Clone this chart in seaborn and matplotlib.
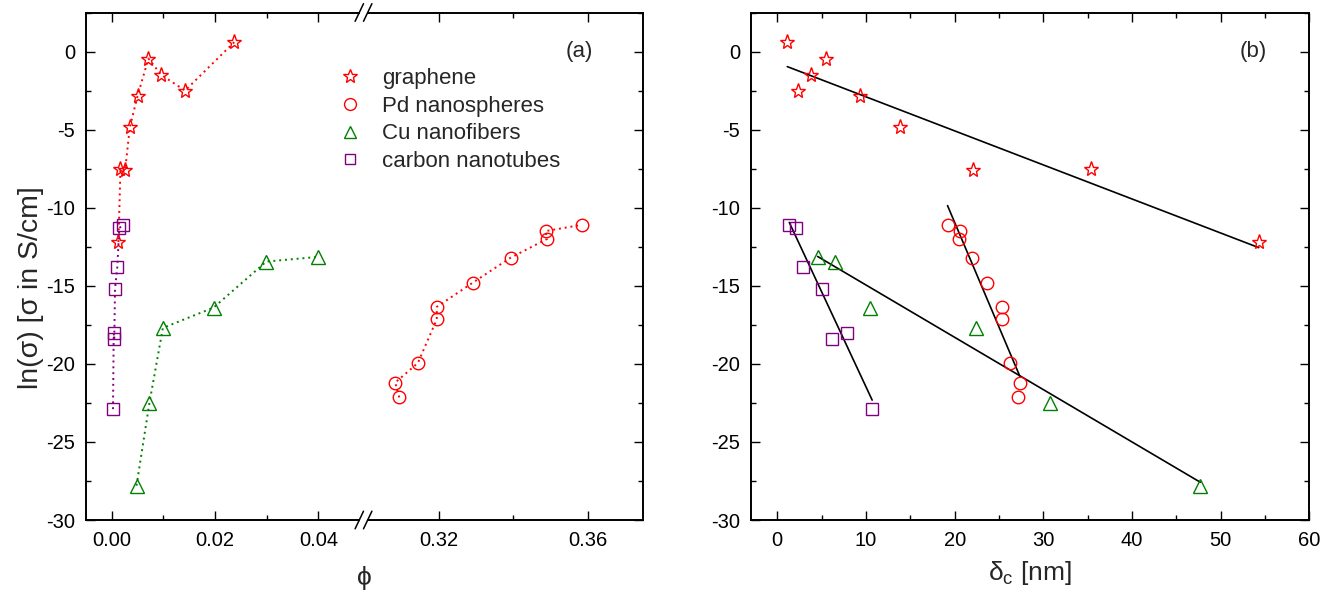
import numpy as np
import matplotlib
matplotlib.use("Agg")
import matplotlib.pyplot as plt
from matplotlib.ticker import MultipleLocator, FixedLocator
from matplotlib.lines import Line2D
import seaborn as sns

# ---------------- data ----------------
series_names = ["graphene", "Pd nanospheres", "Cu nanofibers", "carbon nanotubes"]

gr_phi = [0.0013, 0.0017, 0.0026, 0.0035, 0.0050, 0.0071, 0.0096, 0.0142, 0.0237]
gr_ln = [-12.2, -7.5, -7.6, -4.85, -2.85, -0.45, -1.5, -2.5, 0.6]
gr_delta = [54.3, 35.4, 22.1, 13.8, 9.3, 5.5, 3.85, 2.3, 1.13]

pd_phi = [0.3093, 0.3082, 0.3143, 0.3194, 0.3194, 0.3291, 0.3393, 0.3491, 0.3487, 0.3584]
pd_ln = [-22.15, -21.2, -19.95, -17.15, -16.35, -14.8, -13.2, -12.0, -11.5, -11.1]
pd_delta = [27.15, 27.35, 26.2, 25.3, 25.3, 23.6, 21.95, 20.5, 20.6, 19.2]

cu_phi = [0.0048, 0.0073, 0.0099, 0.0197, 0.0299, 0.0399]
cu_ln = [-27.8, -22.5, -17.7, -16.4, -13.45, -13.15]
cu_delta = [47.7, 30.7, 22.4, 10.5, 6.5, 4.55]

cnt_phi = [0.00025, 0.00039, 0.0005, 0.00064, 0.00108, 0.00147, 0.00213]
cnt_ln = [-22.9, -18.05, -18.4, -15.2, -13.8, -11.3, -11.13]
cnt_delta = [10.7, 7.86, 6.13, 4.99, 2.93, 2.08, 1.35]

# linear fits in panel (b): ln(sigma) = slope * delta + intercept
fit_slope = [-0.218, -1.34, -0.335, -1.217]
fit_intercept = [-0.72, 15.86, -11.60, -9.30]

xticks_left = [0.00, 0.02, 0.04]
xticks_right = [0.32, 0.36]
xticks_b = [0, 10, 20, 30, 40, 50, 60]
yticks = [-30, -25, -20, -15, -10, -5, 0]

# ---------------- style ----------------
sns.set_style("ticks")
plt.rcParams["font.family"] = ["Liberation Sans", "DejaVu Sans"]
plt.rcParams["mathtext.fontset"] = "custom"
plt.rcParams["mathtext.rm"] = "Liberation Sans"
plt.rcParams["mathtext.it"] = "Liberation Sans:italic"

RED, GREEN, PURPLE = "#ff0000", "#008000", "#800080"
colors = [RED, RED, GREEN, PURPLE]
markers = ["*", "o", "^", "s"]
msizes = [11.0, 9.0, 9.5, 8.0]

W, H = 1332, 597
fig = plt.figure(figsize=(W / 100, H / 100), dpi=100)


def rect(l, r, t, b):
    return [l / W, 1 - b / H, (r - l) / W, (b - t) / H]


TOP, BOT = 12.5, 520
axL = fig.add_axes(rect(85.7, 359.3, TOP, BOT))
axR = fig.add_axes(rect(367.7, 643.3, TOP, BOT), sharey=axL)
axB = fig.add_axes(rect(750.7, 1309.3, TOP, BOT))

dot = (0, (1, 2.0))


def draw(ax, x, y, i, line=True, label=None):
    sns.lineplot(x=x, y=y, ax=ax, sort=False, estimator=None, legend=False,
                 color=colors[i], linestyle=dot if line else "none",
                 linewidth=1.4, marker=markers[i], markersize=msizes[i],
                 markerfacecolor="none", markeredgecolor=colors[i],
                 markeredgewidth=1.0, label=label)


# panel (a)
draw(axL, gr_phi, gr_ln, 0)
draw(axL, cu_phi, cu_ln, 2)
draw(axL, cnt_phi, cnt_ln, 3)
draw(axR, pd_phi, pd_ln, 1)

# panel (b)
deltas = [gr_delta, pd_delta, cu_delta, cnt_delta]
lns = [gr_ln, pd_ln, cu_ln, cnt_ln]
for i in range(4):
    xs = np.array([min(deltas[i]), max(deltas[i])])
    sns.lineplot(x=xs, y=fit_slope[i] * xs + fit_intercept[i], ax=axB,
                 color="black", linewidth=1.2, estimator=None, sort=False,
                 legend=False)
for i in range(4):
    draw(axB, deltas[i], lns[i], i, line=False, label=series_names[i])

# ---------------- axes formatting ----------------
for ax in (axL, axR, axB):
    ax.set_ylim(-30, 2.5)
    ax.yaxis.set_major_locator(FixedLocator(yticks))
    ax.yaxis.set_minor_locator(MultipleLocator(2.5))
    ax.set_xlabel("")
    ax.set_ylabel("")
    for s in ax.spines.values():
        s.set_linewidth(1.4)
        s.set_color("black")
    ax.tick_params(which="both", direction="in", colors="black",
                   labelsize=14.5, width=1.0)
    ax.tick_params(which="major", length=6.5)
    ax.tick_params(which="minor", length=3.6)
    ax.tick_params(axis="x", which="both", top=True, bottom=True, pad=8)
    ax.tick_params(axis="y", pad=7.5)

axL.set_xlim(-0.00503, 0.0479)
axL.xaxis.set_major_locator(FixedLocator(xticks_left))
axL.xaxis.set_minor_locator(FixedLocator([0.01, 0.03]))
axL.xaxis.set_major_formatter(plt.FormatStrFormatter("%.2f"))
axL.spines["right"].set_visible(False)
axL.tick_params(axis="y", which="both", left=True, right=False)

axR.set_xlim(0.3008, 0.375)
axR.xaxis.set_major_locator(FixedLocator(xticks_right))
axR.xaxis.set_minor_locator(FixedLocator([0.34]))
axR.xaxis.set_major_formatter(plt.FormatStrFormatter("%.2f"))
axR.spines["left"].set_visible(False)
axR.tick_params(axis="y", which="both", left=False, right=True,
                labelleft=False, labelright=False)

axB.set_xlim(-3, 60)
axB.xaxis.set_major_locator(FixedLocator(xticks_b))
axB.xaxis.set_minor_locator(MultipleLocator(5))
axB.tick_params(axis="y", which="both", left=True, right=True)

for ax in (axL, axR, axB):
    ax.yaxis.set_major_formatter(plt.FuncFormatter(lambda v, p: f"{v:.0f}".replace("\u2212", "-")))

# axis break marks
for xb in (359.3, 367.7):
    for yb in (TOP, BOT):
        fig.add_artist(Line2D([(xb - 4.2) / W, (xb + 4.2) / W],
                              [1 - (yb + 8.8) / H, 1 - (yb - 8.8) / H],
                              color="black", linewidth=1.1))

# labels
fig.text(31 / W, 1 - 288 / H, "ln(\u03c3) [\u03c3 in S/cm]", rotation=90,
         ha="center", va="center", fontsize=20.5)
fig.text(364.5 / W, 1 - 578 / H, "\u03d5", ha="center", va="center", fontsize=19)
fig.text(1030 / W, 1 - 573 / H, "\u03b4$_\\mathregular{c}$ [nm]", ha="center",
         va="center", fontsize=19)
fig.text(579 / W, 1 - 51.7 / H, "(a)", ha="center", va="center", fontsize=16)
fig.text(1253 / W, 1 - 51.7 / H, "(b)", ha="center", va="center", fontsize=16)

handles, labels = axB.get_legend_handles_labels()
fig.legend(handles, labels, loc="upper left", bbox_to_anchor=(339 / W, 1 - 68 / H),
           frameon=False, fontsize=16, handlelength=1.0, handletextpad=0.95,
           labelspacing=0.30, borderpad=0, borderaxespad=0, markerscale=0.95,
           numpoints=1)

fig.savefig("out.png", dpi=100)
